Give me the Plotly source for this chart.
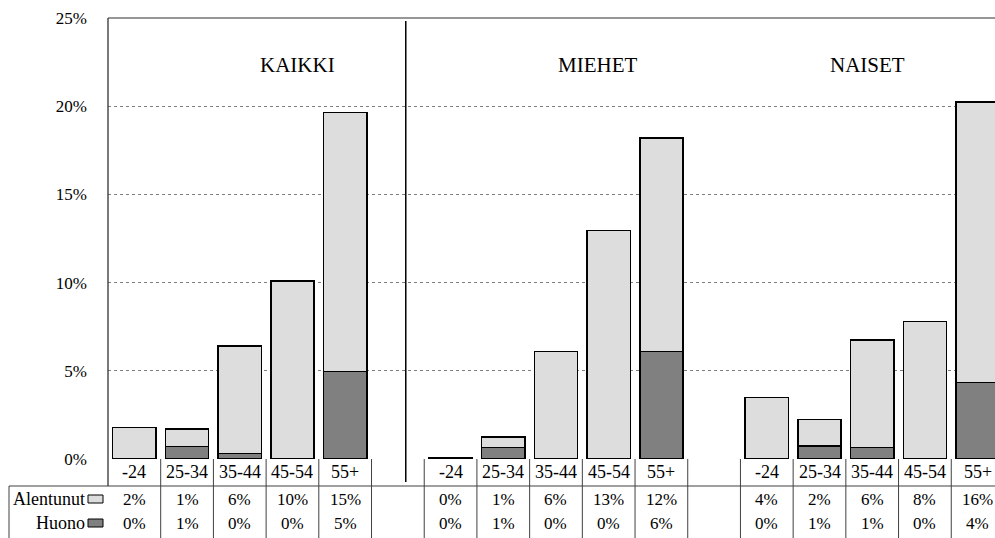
import plotly.graph_objects as go

# ---- data ----
age_groups = ["-24", "25-34", "35-44", "45-54", "55+"]
group_names = ["KAIKKI", "MIEHET", "NAISET"]

kaikki_alentunut = [1.8, 1.0, 6.1, 10.1, 14.7]
kaikki_huono = [0.0, 0.7, 0.3, 0.0, 4.95]
miehet_alentunut = [0.05, 0.6, 6.1, 12.95, 12.1]
miehet_huono = [0.0, 0.65, 0.0, 0.0, 6.1]
naiset_alentunut = [3.5, 1.5, 6.1, 7.8, 15.9]
naiset_huono = [0.0, 0.75, 0.65, 0.0, 4.35]

y_ticks = [0, 5, 10, 15, 20, 25]
y_ticklabels = ["0%", "5%", "10%", "15%", "20%", "25%"]

series_names = ["Alentunut", "Huono"]
light = "#DDDDDD"
dark = "#808080"
FONT = "Liberation Serif, Times New Roman, serif"

# build category sequence: 5 + blank + 5 + blank + 5
cat_labels = age_groups + [""] + age_groups + [""] + age_groups
alentunut = kaikki_alentunut + [None] + miehet_alentunut + [None] + naiset_alentunut
huono = kaikki_huono + [None] + miehet_huono + [None] + naiset_huono
xs = list(range(len(cat_labels)))

fig = go.Figure()
fig.add_trace(go.Bar(x=xs, y=huono, name="Huono", marker=dict(color=dark, line=dict(color="black", width=1.5))))
fig.add_trace(go.Bar(x=xs, y=alentunut, name="Alentunut", marker=dict(color=light, line=dict(color="black", width=1.5))))

PH = 441.0  # plot height px
PW = 887.0  # plot width px


def py(px_below_axis):
    return -px_below_axis / PH


shapes = []
ann = []

header_bottom = py(27)
table_bottom = py(80)
row1_y = py(40)
row2_y = py(64)
header_y = py(13)

# table vertical borders at category boundaries
for k in range(1, len(cat_labels)):
    shapes.append(dict(type="line", xref="x", yref="paper", x0=k - 0.5, x1=k - 0.5,
                       y0=0, y1=table_bottom, line=dict(color="#404040", width=1)))
# left axis line extended through header
shapes.append(dict(type="line", xref="paper", yref="paper", x0=0, x1=0, y0=1, y1=header_bottom,
                   line=dict(color="#202020", width=1.2)))
# top border
shapes.append(dict(type="line", xref="paper", yref="paper", x0=0, x1=1, y0=1, y1=1,
                   line=dict(color="#303030", width=1.2)))
# horizontal line under header
left_tab = -99 / PW
shapes.append(dict(type="line", xref="paper", yref="paper", x0=left_tab, x1=1, y0=header_bottom, y1=header_bottom,
                   line=dict(color="#404040", width=1)))
shapes.append(dict(type="line", xref="paper", yref="paper", x0=left_tab, x1=left_tab, y0=header_bottom, y1=table_bottom,
                   line=dict(color="#404040", width=1)))
# group separator line
shapes.append(dict(type="line", xref="x", yref="paper", x0=5.15, x1=5.15, y0=0.993, y1=py(23),
                   line=dict(color="black", width=1.5)))

# legend keys in the table
for yy, col in [(row1_y, light), (row2_y, dark)]:
    shapes.append(dict(type="rect", xref="paper", yref="paper",
                       x0=-20 / PW, x1=-5 / PW, y0=yy - 4 / PH, y1=yy + 4 / PH,
                       fillcolor=col, line=dict(color="black", width=1)))

# row labels
for yy, name in [(row1_y, series_names[0]), (row2_y, series_names[1])]:
    ann.append(dict(x=-21 / PW, y=yy, xref="paper", yref="paper", text=name, showarrow=False,
                    xanchor="right", yanchor="middle", font=dict(family=FONT, size=18, color="black")))


def pct(v):
    return f"{int(v + 0.5)}%"


for i, lab in enumerate(cat_labels):
    if lab == "":
        continue
    ann.append(dict(x=i, y=header_y, xref="x", yref="paper", text=lab, showarrow=False,
                    yanchor="middle", font=dict(family=FONT, size=18, color="black")))
    ann.append(dict(x=i, y=row1_y, xref="x", yref="paper", text=pct(alentunut[i]), showarrow=False,
                    yanchor="middle", font=dict(family=FONT, size=17, color="black")))
    ann.append(dict(x=i, y=row2_y, xref="x", yref="paper", text=pct(huono[i]), showarrow=False,
                    yanchor="middle", font=dict(family=FONT, size=17, color="black")))

# group labels
for gx, name in zip([3.09, 8.78, 13.92], group_names):
    ann.append(dict(x=gx, y=22.35, xref="x", yref="y", text=name, showarrow=False,
                    yanchor="middle", font=dict(family=FONT, size=21, color="black")))

fig.update_layout(
    width=995, height=538,
    margin=dict(l=108, r=0, t=18, b=79),
    paper_bgcolor="white", plot_bgcolor="white",
    barmode="stack", bargap=0.18,
    showlegend=False,
    shapes=shapes, annotations=ann,
    font=dict(family=FONT, color="black"),
    xaxis=dict(range=[-0.5, 16.33], showticklabels=False, showgrid=False, zeroline=False, showline=False,
               fixedrange=True),
    yaxis=dict(range=[0, 25], tickvals=y_ticks, ticktext=y_ticklabels, showgrid=True,
               gridcolor="#808080", griddash="dot", gridwidth=1, zeroline=False, showline=False,
               ticks="", ticklabelstandoff=20,
               tickfont=dict(family=FONT, size=17, color="black")),
)

fig.write_html("out.html", config={"displayModeBar": False},
               post_script="document.body.style.margin='0';document.body.style.overflow='hidden';")
